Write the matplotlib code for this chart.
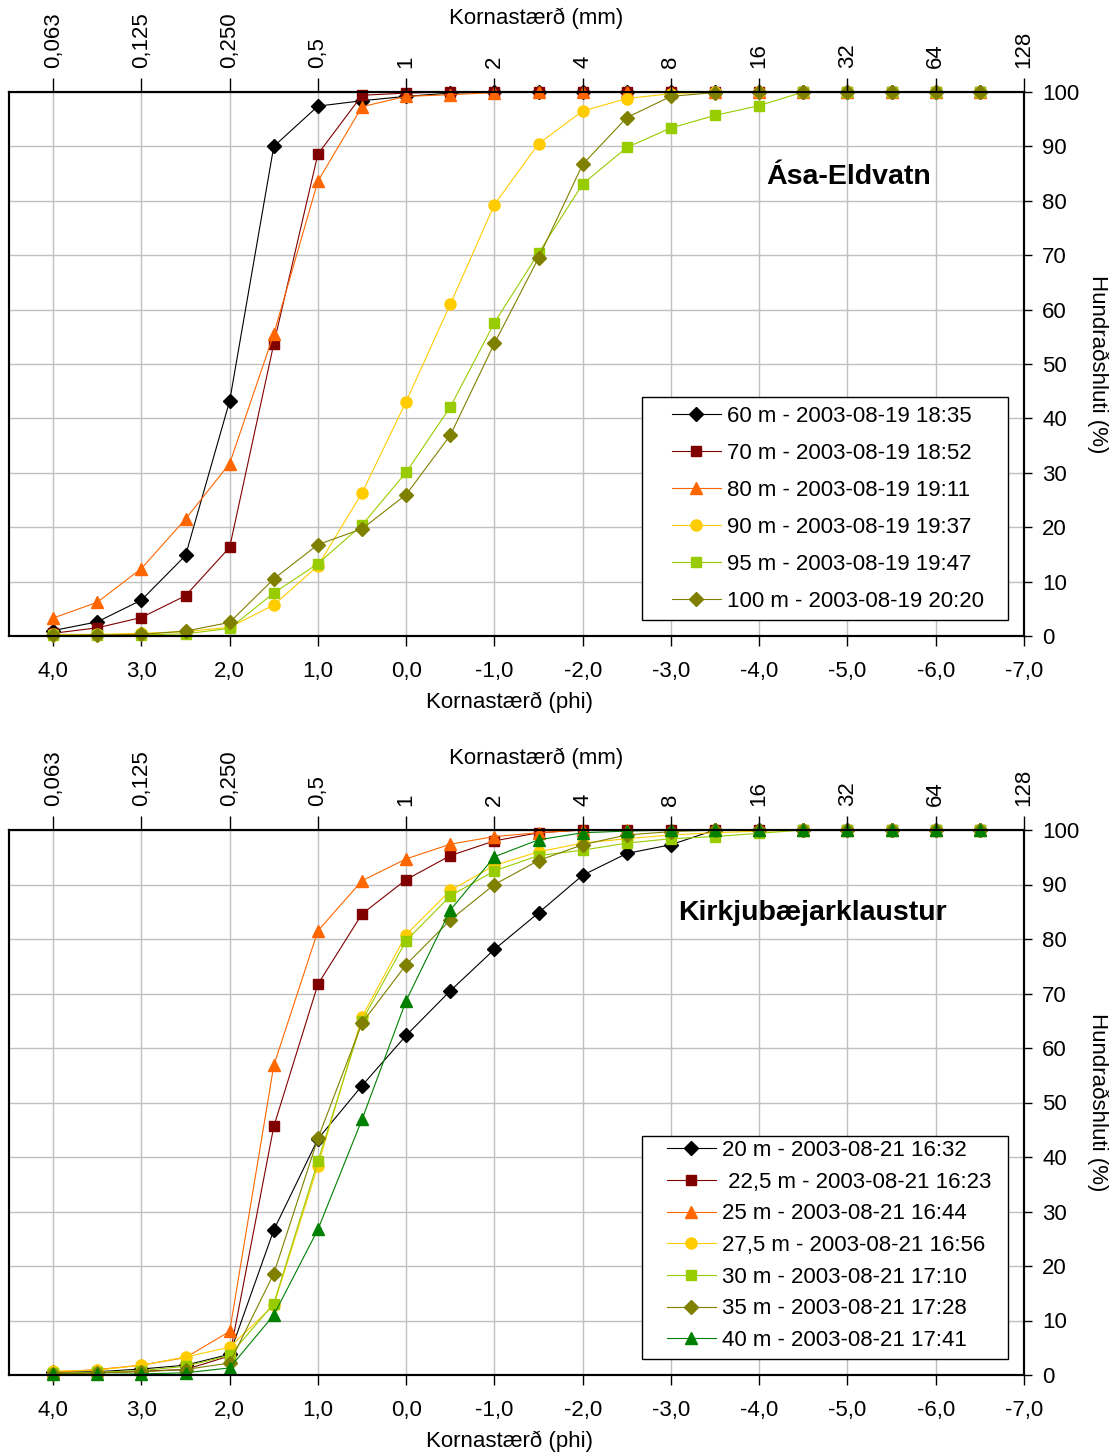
import matplotlib
matplotlib.use("Agg")
from matplotlib import pyplot as plt
from matplotlib.patches import Rectangle

plt.rcParams['font.family'] = ['Liberation Sans', 'DejaVu Sans']

# phi classes (same for every sample)
phi = [4.0, 3.5, 3.0, 2.5, 2.0, 1.5, 1.0, 0.5, 0.0, -0.5, -1.0, -1.5, -2.0, -2.5,
       -3.0, -3.5, -4.0, -4.5, -5.0, -5.5, -6.0, -6.5]

phi_ticks = [4, 3, 2, 1, 0, -1, -2, -3, -4, -5, -6, -7]
phi_labels = ['4,0', '3,0', '2,0', '1,0', '0,0', '-1,0', '-2,0', '-3,0', '-4,0', '-5,0', '-6,0', '-7,0']
mm_labels = ['0,063', '0,125', '0,250', '0,5', '1', '2', '4', '8', '16', '32', '64', '128']

# Ása-Eldvatn
asa_labels = ['60 m - 2003-08-19 18:35', '70 m - 2003-08-19 18:52', '80 m - 2003-08-19 19:11',
              '90 m - 2003-08-19 19:37', '95 m - 2003-08-19 19:47', '100 m - 2003-08-19 20:20']
asa_60 = [1.0, 2.6, 6.6, 14.8, 43.2, 90.0, 97.4, 98.4, 99.2, 99.8, 100, 100, 100, 100,
          100, 100, 100, 100, 100, 100, 100, 100]
asa_70 = [0.5, 1.5, 3.4, 7.4, 16.3, 53.7, 88.6, 99.4, 99.8, 100, 100, 100, 100, 100,
          100, 100, 100, 100, 100, 100, 100, 100]
asa_80 = [3.3, 6.2, 12.4, 21.5, 31.7, 55.5, 83.6, 97.3, 99.2, 99.5, 99.9, 100, 100, 100,
          100, 100, 100, 100, 100, 100, 100, 100]
asa_90 = [0.3, 0.3, 0.5, 0.8, 1.6, 5.7, 12.9, 26.3, 43.1, 61.0, 79.3, 90.5, 96.5, 98.8,
          99.7, 100, 100, 100, 100, 100, 100, 100]
asa_95 = [0.1, 0.1, 0.2, 0.4, 1.4, 7.9, 13.3, 20.4, 30.1, 42.1, 57.6, 70.4, 83.1, 89.8,
          93.4, 95.7, 97.5, 100, 100, 100, 100, 100]
asa_100 = [0.1, 0.2, 0.3, 0.9, 2.5, 10.5, 16.8, 19.7, 26.0, 36.9, 53.8, 69.5, 86.7, 95.3,
           99.2, 99.9, 100, 100, 100, 100, 100, 100]

# Kirkjubæjarklaustur
kirk_labels = ['20 m - 2003-08-21 16:32', ' 22,5 m - 2003-08-21 16:23', '25 m - 2003-08-21 16:44',
               '27,5 m - 2003-08-21 16:56', '30 m - 2003-08-21 17:10', '35 m - 2003-08-21 17:28',
               '40 m - 2003-08-21 17:41']
kirk_20 = [0.5, 0.6, 1.1, 1.8, 3.8, 26.6, 43.3, 53.1, 62.3, 70.5, 78.1, 84.8, 91.7, 95.7,
           97.3, 100, 100, 100, 100, 100, 100, 100]
kirk_22 = [0.2, 0.4, 0.7, 1.0, 3.5, 45.6, 71.7, 84.6, 90.9, 95.3, 98.0, 99.5, 100, 100,
           100, 100, 100, 100, 100, 100, 100, 100]
kirk_25 = [0.5, 1.0, 1.8, 3.2, 8.0, 56.8, 81.5, 90.7, 94.7, 97.4, 98.8, 99.5, 100, 100,
           100, 100, 100, 100, 100, 100, 100, 100]
kirk_27 = [0.7, 0.9, 1.8, 3.3, 5.1, 12.8, 38.4, 65.7, 80.8, 88.9, 93.5, 96.0, 97.6, 98.4,
           99.1, 99.5, 99.8, 100, 100, 100, 100, 100]
kirk_30 = [0.3, 0.5, 0.8, 1.6, 3.6, 13.1, 39.2, 65.0, 79.7, 87.9, 92.5, 95.3, 96.3, 97.6,
           98.4, 98.8, 99.4, 100, 100, 100, 100, 100]
kirk_35 = [0.2, 0.4, 0.6, 1.0, 2.2, 18.6, 43.4, 64.6, 75.3, 83.5, 90.0, 94.4, 97.3, 99.1,
           99.7, 100, 100, 100, 100, 100, 100, 100]
kirk_40 = [0.1, 0.1, 0.2, 0.4, 1.3, 11.0, 26.7, 46.9, 68.7, 85.3, 95.1, 98.2, 99.5, 99.8,
           100, 100, 100, 100, 100, 100, 100, 100]

asa_series = [asa_60, asa_70, asa_80, asa_90, asa_95, asa_100]
asa_styles = [('black', 'D', 7), ('#800000', 's', 7), ('#FF6600', '^', 9),
              ('#FFCC00', 'o', 8), ('#99CC00', 's', 7), ('#808000', 'D', 7)]
kirk_series = [kirk_20, kirk_22, kirk_25, kirk_27, kirk_30, kirk_35, kirk_40]
kirk_styles = [('black', 'D', 7), ('#800000', 's', 7), ('#FF6600', '^', 9),
               ('#FFCC00', 'o', 8), ('#99CC00', 's', 7), ('#808000', 'D', 7),
               ('#008000', '^', 9)]

fs = 16
W, H = 1115, 1454
fig = plt.figure(figsize=(W / 100, H / 100), dpi=100)


def draw_panel(top_px, bot_px, mm_label_px, series, styles, labels, title, title_xy,
               leg_box, leg_first, leg_spacing):
	ax = fig.add_axes([9 / W, 1 - bot_px / H, 1015 / W, (bot_px - top_px) / H])
	hpx = bot_px - top_px
	for vals, (c, m, ms), lab in zip(series, styles, labels):
		ax.plot(phi, vals, color=c, marker=m, markersize=ms, markeredgecolor=c,
		        linewidth=0.8, label=lab, clip_on=False, zorder=3)
	ax.set_xlim(4.5, -7.0)
	ax.set_ylim(0, 100)
	ax.set_xticks(phi_ticks)
	ax.set_xticklabels(phi_labels, fontsize=fs)
	ax.set_yticks(range(0, 101, 10))
	ax.yaxis.tick_right()
	ax.yaxis.set_label_position('right')
	ax.tick_params(axis='y', labelsize=fs, direction='out', length=6, width=1, pad=7)
	ax.tick_params(axis='x', direction='out', length=7, width=1, pad=11)
	ax.set_xlabel('Kornastærð (phi)', fontsize=fs, va='center')
	ax.xaxis.set_label_coords((510 - 9) / 1015, -66 / hpx)
	ax.set_ylabel('Hundraðshluti (%)', fontsize=fs, rotation=270, va='center', ha='center')
	ax.yaxis.set_label_coords((1098 - 9) / 1015, 0.5)
	ax.grid(True, color='#C0C0C0', linewidth=1)
	ax.set_axisbelow(True)
	for sp in ax.spines.values():
		sp.set_linewidth(1.5)
	ax.text(title_xy[0], title_xy[1], title, transform=ax.transAxes, fontsize=20.5,
	        fontweight='bold', ha='center', va='center')
	# legend box drawn by hand so padding matches
	x0, y0, x1, y1 = leg_box
	ax.add_patch(Rectangle((x0 / W, 1 - y1 / H), (x1 - x0) / W, (y1 - y0) / H,
	                       transform=fig.transFigure, facecolor='white', edgecolor='black',
	                       linewidth=1, zorder=9, clip_on=False))
	leg = ax.legend(loc='upper left', bbox_to_anchor=(leg_first[0] / W, 1 - leg_first[1] / H),
	                bbox_transform=fig.transFigure, fontsize=fs, frameon=False,
	                handlelength=2.2, borderpad=0, labelspacing=leg_spacing,
	                borderaxespad=0, handletextpad=0.27)
	leg.set_zorder(10)
	# mm scale on top
	top = ax.twiny()
	top.set_xlim(ax.get_xlim())
	top.set_xticks(phi_ticks)
	top.set_xticklabels(mm_labels, rotation=90, fontsize=fs)
	top.tick_params(axis='x', direction='out', length=10, width=1, pad=7)
	top.set_xlabel('Kornastærð (mm)', fontsize=fs, va='center')
	top.xaxis.set_label_coords((536 - 9) / 1015, 1 + (top_px - mm_label_px) / hpx)
	for sp in top.spines.values():
		sp.set_linewidth(1.5)
	return ax


draw_panel(92, 636, 18, asa_series, asa_styles, asa_labels, 'Ása-Eldvatn', (0.827, 0.844),
           (642, 397, 1008, 620), (672, 406), 0.72)
draw_panel(830, 1375, 758, kirk_series, kirk_styles, kirk_labels, 'Kirkjubæjarklaustur',
           (0.792, 0.848), (642, 1136, 1008, 1359), (667, 1140), 0.48)

fig.savefig('out.png', dpi=100)
